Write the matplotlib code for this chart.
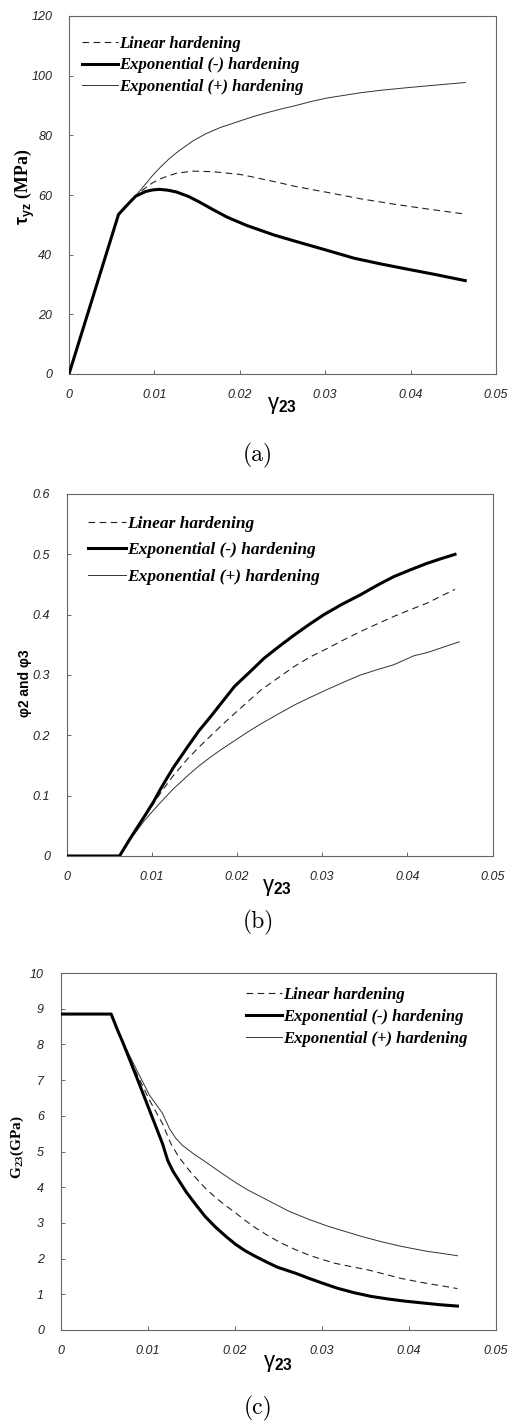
import matplotlib
matplotlib.use("Agg")
import matplotlib.pyplot as plt

plt.rcParams["mathtext.fontset"] = "custom"
plt.rcParams["mathtext.rm"] = "Liberation Serif:bold"
plt.rcParams["mathtext.bf"] = "Liberation Sans:bold"

# tau_yz (MPa) vs gamma_23
a_lin_x = [0, 0.0058, 0.0067, 0.0078, 0.009, 0.0098, 0.0106, 0.0116, 0.0126, 0.0145, 0.0169, 0.020,
           0.0216, 0.0232, 0.0248, 0.0263, 0.0283, 0.0302, 0.0322, 0.0342, 0.0362, 0.0381, 0.042, 0.0464]
a_lin_y = [0, 53.5, 56.3, 59.7, 62.5, 64.1, 65.3, 66.4, 67.3, 68.0, 67.8, 66.9,
           66.0, 65.0, 64.0, 63.0, 61.9, 60.9, 59.8, 58.7, 57.8, 56.9, 55.3, 53.6]
a_neg_x = [0, 0.0058, 0.0067, 0.0078, 0.009, 0.0098, 0.0106, 0.0116, 0.0126, 0.014, 0.0153, 0.0168,
           0.0185, 0.0208, 0.024, 0.0271, 0.0298, 0.0334, 0.0365, 0.0397, 0.0428, 0.0464]
a_neg_y = [0, 53.5, 56.3, 59.6, 61.2, 61.7, 61.9, 61.6, 61.0, 59.5, 57.6, 55.2,
           52.6, 49.8, 46.6, 44.0, 41.8, 38.8, 36.9, 35.1, 33.4, 31.3]
a_pos_x = [0, 0.0058, 0.0067, 0.0078, 0.009, 0.0098, 0.0106, 0.0116, 0.0126, 0.0136, 0.0145, 0.016,
           0.0177, 0.020, 0.0216, 0.0232, 0.0248, 0.0263, 0.0283, 0.0302, 0.0322, 0.0342, 0.0365,
           0.0397, 0.0428, 0.0464]
a_pos_y = [0, 53.5, 56.3, 59.7, 63.8, 66.6, 69.0, 71.8, 74.2, 76.3, 78.1, 80.5,
           82.6, 84.8, 86.3, 87.6, 88.8, 89.8, 91.3, 92.5, 93.4, 94.3, 95.1,
           96.0, 96.8, 97.7]

# phi2 and phi3 vs gamma_23
b_lin_x = [0, 0.0062, 0.0075, 0.00914, 0.0102, 0.0111, 0.0125, 0.0142, 0.0155, 0.0169, 0.0183, 0.0197,
           0.0212, 0.0228, 0.0248, 0.0267, 0.0286, 0.0306, 0.0325, 0.0345, 0.0365, 0.0384, 0.0403,
           0.0423, 0.044, 0.0456]
b_lin_y = [0, 0, 0.029, 0.064, 0.087, 0.106, 0.133, 0.161, 0.18, 0.199, 0.218, 0.236,
           0.255, 0.275, 0.295, 0.314, 0.33, 0.344, 0.358, 0.372, 0.385, 0.397, 0.408,
           0.419, 0.431, 0.442]
b_neg_x = [0, 0.0062, 0.0075, 0.00914, 0.0102, 0.0111, 0.0125, 0.0142, 0.0155, 0.0169, 0.0183, 0.0197,
           0.0215, 0.0232, 0.025, 0.0267, 0.0285, 0.0302, 0.0323, 0.0345, 0.0365, 0.0384, 0.0403,
           0.0423, 0.044, 0.0456]
b_neg_y = [0, 0, 0.03, 0.066, 0.09, 0.113, 0.146, 0.181, 0.207, 0.231, 0.256, 0.281,
           0.305, 0.328, 0.348, 0.366, 0.384, 0.40, 0.417, 0.433, 0.449, 0.463, 0.474,
           0.485, 0.493, 0.50]
b_pos_x = [0, 0.0062, 0.0075, 0.00914, 0.0102, 0.0111, 0.0125, 0.0142, 0.0155, 0.0169, 0.0183, 0.0197,
           0.0212, 0.0228, 0.0248, 0.0267, 0.0286, 0.0306, 0.0325, 0.0345, 0.0365, 0.0384, 0.0408,
           0.0423, 0.0442, 0.0461]
b_pos_y = [0, 0, 0.028, 0.059, 0.076, 0.09, 0.111, 0.133, 0.149, 0.164, 0.178, 0.191,
           0.205, 0.219, 0.235, 0.25, 0.263, 0.276, 0.288, 0.30, 0.309, 0.317, 0.332,
           0.337, 0.346, 0.355]

# G23 (GPa) vs gamma_23
c_lin_x = [0, 0.0058, 0.0065, 0.00715, 0.0087, 0.0102, 0.0117, 0.0127, 0.0136, 0.0145, 0.0155, 0.0166,
           0.0178, 0.019, 0.0201, 0.0212, 0.0224, 0.0239, 0.0254, 0.027, 0.0285, 0.030, 0.0315,
           0.0335, 0.0354, 0.0373, 0.0392, 0.0407, 0.0422, 0.044, 0.0456]
c_lin_y = [8.85, 8.85, 8.42, 8.05, 7.2, 6.44, 5.78, 5.2, 4.84, 4.55, 4.27, 3.98,
           3.71, 3.48, 3.28, 3.07, 2.86, 2.63, 2.43, 2.25, 2.1, 1.98, 1.87,
           1.77, 1.68, 1.56, 1.44, 1.37, 1.30, 1.23, 1.16]
c_neg_x = [0, 0.0058, 0.0065, 0.00715, 0.0087, 0.0102, 0.0117, 0.0123, 0.0129, 0.0136, 0.0145, 0.0155,
           0.0166, 0.0178, 0.019, 0.0201, 0.0212, 0.0224, 0.0237, 0.0249, 0.026, 0.027, 0.0285,
           0.030, 0.0318, 0.0338, 0.0357, 0.0376, 0.0395, 0.0415, 0.0435, 0.0456]
c_neg_y = [8.85, 8.85, 8.42, 8.05, 7.1, 6.16, 5.22, 4.75, 4.45, 4.18, 3.84, 3.52,
           3.18, 2.88, 2.62, 2.40, 2.22, 2.06, 1.90, 1.76, 1.67, 1.59, 1.45,
           1.32, 1.17, 1.04, 0.94, 0.87, 0.81, 0.76, 0.71, 0.67]
c_pos_x = [0, 0.0058, 0.0065, 0.00715, 0.0087, 0.0102, 0.0117, 0.0125, 0.0132, 0.014, 0.0153, 0.0167,
           0.0184, 0.0201, 0.0216, 0.0232, 0.0247, 0.0262, 0.0285, 0.0308, 0.0327, 0.0346, 0.0369,
           0.0392, 0.0407, 0.0422, 0.044, 0.0456]
c_pos_y = [8.85, 8.85, 8.42, 8.07, 7.3, 6.58, 6.07, 5.64, 5.38, 5.17, 4.93, 4.7,
           4.41, 4.13, 3.91, 3.71, 3.52, 3.33, 3.1, 2.9, 2.76, 2.62, 2.47,
           2.34, 2.27, 2.2, 2.14, 2.08]

labels = ["Linear hardening", "Exponential (-) hardening", "Exponential (+) hardening"]
x_ticks = [0, 0.01, 0.02, 0.03, 0.04, 0.05]
x_ticklabels = ["0", "0.01", "0.02", "0.03", "0.04", "0.05"]

W, H = 508, 1423
fig = plt.figure(figsize=(W / 100, H / 100), dpi=100)


def px_axes(left, top, right, bottom):
    return fig.add_axes([left / W, 1 - bottom / H, (right - left) / W, (bottom - top) / H])


def draw_panel(ax, lin, neg, pos, yticks, yticklabels, ylim, leg_anchor, leg_space, leg_size):
    ax.plot(lin[0], lin[1], color="#222222", lw=0.8, ls=(0, (6, 4)), label=labels[0])
    ax.plot(neg[0], neg[1], color="black", lw=2.2, label=labels[1], zorder=3)
    ax.plot(pos[0], pos[1], color="#333333", lw=0.7, label=labels[2])
    ax.set_xlim(0, 0.05)
    ax.set_ylim(*ylim)
    ax.set_xticks(x_ticks)
    ax.set_xticklabels(x_ticklabels)
    ax.set_yticks(yticks)
    ax.set_yticklabels(yticklabels)
    ax.tick_params(direction="in", length=3, width=0.7, color="#666666", labelsize=9,
                   labelcolor="#222222")
    ax.tick_params(axis="y", pad=12)
    ax.tick_params(axis="x", pad=11)
    for lab in ax.get_xticklabels() + ax.get_yticklabels():
        lab.set_fontfamily("Liberation Sans")
        lab.set_fontstyle("italic")
    for sp in ax.spines.values():
        sp.set_color("#666666")
        sp.set_linewidth(0.8)
    leg = ax.legend(loc="upper left", bbox_to_anchor=leg_anchor, frameon=False,
                    borderpad=0, borderaxespad=0, handlelength=2.2, handletextpad=0.05,
                    labelspacing=leg_space,
                    prop={"family": "Liberation Serif", "weight": "bold", "style": "italic",
                          "size": leg_size})
    return leg


ax_a = px_axes(69, 16, 496, 374)
draw_panel(ax_a, (a_lin_x, a_lin_y), (a_neg_x, a_neg_y), (a_pos_x, a_pos_y),
           [0, 20, 40, 60, 80, 100, 120], ["0", "20", "40", "60", "80", "100", "120"],
           (0, 120), (0.03, 0.944), 0.32, 12)

ax_b = px_axes(66.7, 494, 492.5, 856)
draw_panel(ax_b, (b_lin_x, b_lin_y), (b_neg_x, b_neg_y), (b_pos_x, b_pos_y),
           [0, 0.1, 0.2, 0.3, 0.4, 0.5, 0.6], ["0", "0.1", "0.2", "0.3", "0.4", "0.5", "0.6"],
           (0, 0.6), (0.05, 0.94), 0.6, 12.5)

ax_c = px_axes(60.7, 973, 495.7, 1330)
draw_panel(ax_c, (c_lin_x, c_lin_y), (c_neg_x, c_neg_y), (c_pos_x, c_pos_y),
           list(range(11)), [str(v) for v in range(11)],
           (0, 10), (0.425, 0.962), 0.38, 12)

# y axis titles
fig.text(25 / W, 1 - 187 / H, r"τ$_{\mathbf{yz}}$ $\mathrm{(MPa)}$", rotation=90,
         ha="center", va="center", fontsize=12.8, family="Liberation Sans", weight="bold")
fig.text(25 / W, 1 - 683 / H, "φ2 and φ3", rotation=90, ha="center", va="center",
         fontsize=10, family="Liberation Sans", weight="bold")
fig.text(17 / W, 1 - 1147 / H, r"G$_{\mathrm{23}}$(GPa)", rotation=90, ha="center",
         va="center", fontsize=11, family="Liberation Serif", weight="bold")

# x axis titles
for xc, yc in [(282, 405), (277, 887), (278, 1363)]:
    fig.text(xc / W, 1 - yc / H, r"γ$_{\mathbf{23}}$", ha="center", va="center",
             fontsize=16, family="Liberation Sans")

# panel captions
for cap, yc in [("(a)", 455), ("(b)", 922), ("(c)", 1408)]:
    fig.text(258 / W, 1 - yc / H, cap, ha="center", va="center", fontsize=17, family="cmr10")

fig.savefig("out.png", dpi=100)
